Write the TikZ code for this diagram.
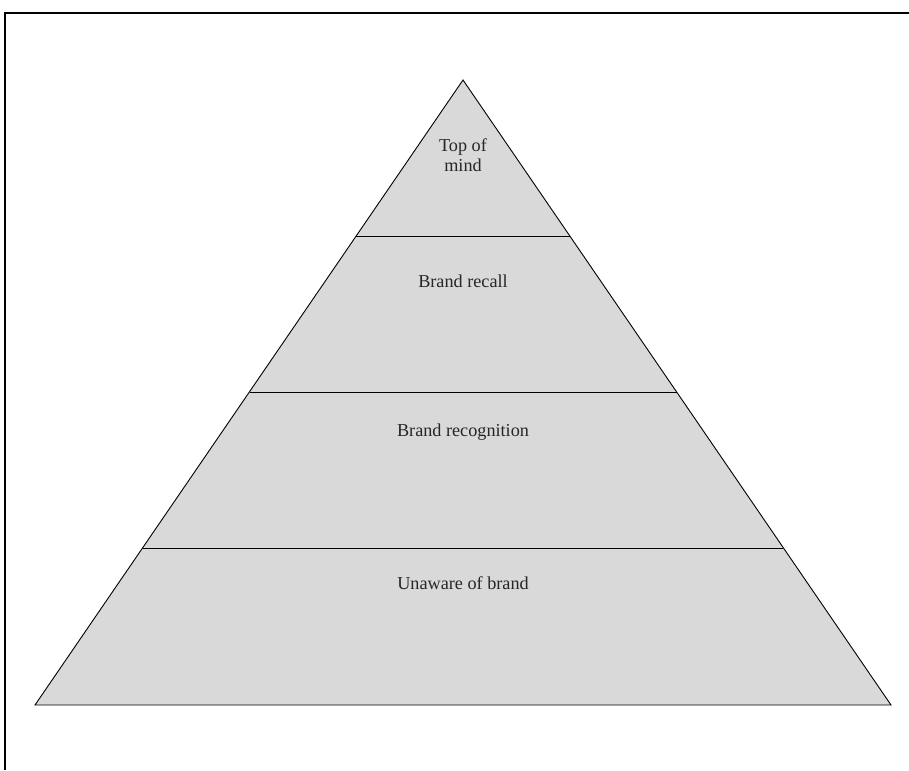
\documentclass[tikz,border=0pt]{standalone}
\usepackage{fontspec}
\setmainfont{Liberation Serif}
\begin{document}
\begin{tikzpicture}[x=1pt,y=-1pt]
            %piramide a 4 livelli dentro una cornice
            \useasboundingbox (0,0) rectangle (909,770);
            \draw[line width=2.2pt] (5,770) -- (5,13) -- (909,13);

            \coordinate (apex) at (463,80);
            \coordinate (bl) at (35,705);
            \coordinate (br) at (891,705);
            \fill[black!15] (apex) -- (bl) -- (br) -- cycle;

            \draw[line width=0.9pt] (apex) -- (bl) -- (br) -- cycle;
            \draw[line width=0.9pt] (356.3,236) -- (569.7,236);
            \draw[line width=0.9pt] (249.5,392) -- (676.5,392);
            \draw[line width=0.9pt] (142.8,548) -- (783.2,548);

            \node[font=\fontsize{18.2}{20}\selectfont,align=center,text=black!85] (top) at (463,155) {Top of\\mind};
            \node[font=\fontsize{18.2}{20}\selectfont,text=black!85] (recall) at (463,281) {Brand recall};
            \node[font=\fontsize{18.2}{20}\selectfont,text=black!85] (recog) at (463,432) {Brand recognition};
            \node[font=\fontsize{18.2}{20}\selectfont,text=black!85] (unaware) at (463,583) {Unaware of brand};

        \end{tikzpicture}
\end{document}
